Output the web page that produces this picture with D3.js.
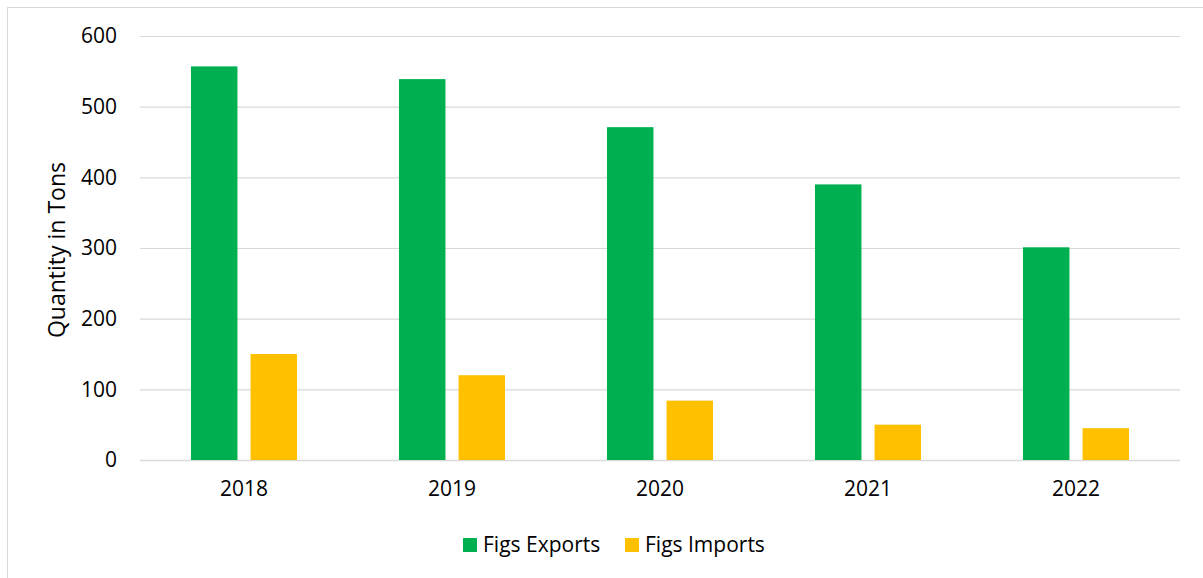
<!DOCTYPE html>
<html>
<head>
<meta charset="utf-8">
<script src="https://cdn.jsdelivr.net/npm/d3@7"></script>
<style>
  html, body { margin: 0; padding: 0; background: #fff; }
  svg text { font-family: "Open Sans", sans-serif; fill: #000; }
</style>
</head>
<body>
<svg id="chart" width="1203" height="578"></svg>
<script>
const years = ["2018", "2019", "2020", "2021", "2022"];
const seriesNames = ["Figs Exports", "Figs Imports"];
const exportsTons = [557, 539, 471, 390, 301];
const importsTons = [150, 120, 84, 50, 45];
const yTicks = [0, 100, 200, 300, 400, 500, 600];
const colors = ["#00B050", "#FFC000"];

const svg = d3.select("#chart");
const W = 1203, H = 578;
const margin = { left: 140, right: 23, top: 36, bottom: 118 };

// light frame round the chart area
svg.append("rect")
  .attr("x", 7.5).attr("y", 7.5)
  .attr("width", 1210).attr("height", 600)
  .attr("fill", "none")
  .attr("stroke", "#d9d9d9");

const rows = years.map((yr, i) => ({ year: yr, values: [exportsTons[i], importsTons[i]] }));

const x0 = d3.scaleBand()
  .domain(years)
  .range([margin.left, W - margin.right])
  .paddingInner(0.49)
  .paddingOuter(0.245);

const x1 = d3.scaleBand()
  .domain(seriesNames)
  .range([0, x0.bandwidth()])
  .paddingInner(0.22);

const y = d3.scaleLinear()
  .domain([0, 600])
  .range([H - margin.bottom, margin.top]);

// gridlines
svg.append("g")
  .selectAll("line")
  .data(yTicks)
  .join("line")
  .attr("x1", margin.left)
  .attr("x2", W - margin.right)
  .attr("y1", d => y(d) + 0.5)
  .attr("y2", d => y(d) + 0.5)
  .attr("stroke", "#d9d9d9")
  .attr("stroke-width", d => d === 0 ? 1.5 : 1.2);

// y axis labels
const yAxis = d3.axisLeft(y).tickValues(yTicks).tickSize(0).tickPadding(0);
svg.append("g")
  .attr("transform", `translate(${margin.left - 23},0)`)
  .call(yAxis)
  .call(g => g.select(".domain").remove())
  .selectAll("text")
  .attr("font-size", 21)
  .attr("font-family", "'Open Sans', sans-serif")
  .attr("fill", "#000");

// bars
const groups = svg.append("g")
  .selectAll("g")
  .data(rows)
  .join("g")
  .attr("transform", d => `translate(${x0(d.year)},0)`);

groups.selectAll("rect")
  .data(d => d.values.map((v, j) => ({ key: seriesNames[j], value: v, idx: j })))
  .join("rect")
  .attr("x", d => x1(d.key))
  .attr("width", x1.bandwidth())
  .attr("y", d => y(d.value))
  .attr("height", d => y(0) - y(d.value))
  .attr("fill", d => colors[d.idx]);

// x axis labels
const xAxis = d3.axisBottom(x0).tickSize(0).tickPadding(0);
svg.append("g")
  .attr("transform", `translate(0,${y(0) + 21})`)
  .call(xAxis)
  .call(g => g.select(".domain").remove())
  .selectAll("text")
  .attr("font-size", 21)
  .attr("font-family", "'Open Sans', sans-serif")
  .attr("fill", "#000");

// y axis title
svg.append("text")
  .attr("transform", `translate(65,250) rotate(-90)`)
  .attr("text-anchor", "middle")
  .attr("font-size", 23)
  .text("Quantity in Tons");

// legend
const legendX = [463, 625];
const legend = svg.append("g")
  .selectAll("g")
  .data(seriesNames)
  .join("g")
  .attr("transform", (d, i) => `translate(${legendX[i]},538)`);

legend.append("rect")
  .attr("width", 14).attr("height", 14)
  .attr("fill", (d, i) => colors[i]);

legend.append("text")
  .attr("x", 20)
  .attr("y", 14)
  .attr("font-size", 21)
  .text(d => d);
</script>
</body>
</html>
